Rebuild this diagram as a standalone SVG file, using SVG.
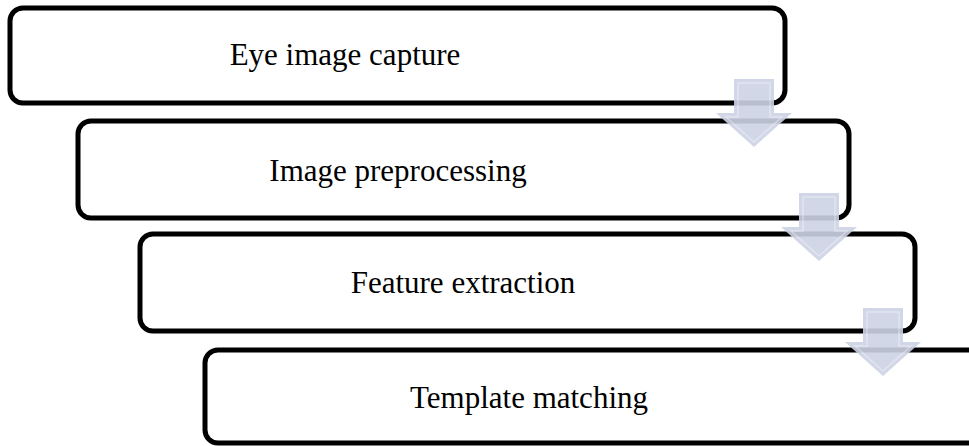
<svg xmlns="http://www.w3.org/2000/svg" width="969" height="446" viewBox="0 0 969 446">
  <style>
    .box { fill: #ffffff; stroke: #000000; stroke-width: 5; }
    .label { font-family: "Liberation Serif", "Times New Roman", serif; font-size: 31px; fill: #000000; text-anchor: middle; }
    .arrow { fill: #cdd3e5; fill-opacity: 0.9; }
    .arrow-edge { fill: none; stroke: #ffffff; stroke-opacity: 0.35; stroke-width: 1.5; }
  </style>
  <defs>
    <!-- down arrow centred on x=0, top at y=0 -->
    <path id="down-arrow" d="M -20 0 H 20 V 34 H 38 L 0 68 L -38 34 H -20 Z"/>
    <path id="down-arrow-inner" d="M -16 4 H 16 V 38 H 28 L 0 63 L -28 38 H -16 Z"/>
  </defs>
  <rect width="969" height="446" fill="#ffffff"/>

  <g id="step1">
    <rect class="box" x="10" y="8" width="775" height="95" rx="13"/>
    <text class="label" x="345" y="65">Eye image capture</text>
  </g>
  <g id="step2">
    <rect class="box" x="78" y="121" width="771" height="97" rx="13"/>
    <text class="label" x="398" y="181">Image preprocessing</text>
  </g>
  <g id="step3">
    <rect class="box" x="140" y="234" width="775" height="97" rx="13"/>
    <text class="label" x="463" y="293">Feature extraction</text>
  </g>
  <g id="step4">
    <rect class="box" x="205" y="350" width="800" height="93" rx="13"/>
    <text class="label" x="529" y="408">Template matching</text>
  </g>

  <g id="connectors">
    <g transform="translate(754,79)">
      <use href="#down-arrow" class="arrow"/>
      <use href="#down-arrow-inner" class="arrow-edge"/>
    </g>
    <g transform="translate(819,193)">
      <use href="#down-arrow" class="arrow"/>
      <use href="#down-arrow-inner" class="arrow-edge"/>
    </g>
    <g transform="translate(883,308)">
      <use href="#down-arrow" class="arrow"/>
      <use href="#down-arrow-inner" class="arrow-edge"/>
    </g>
  </g>
</svg>
